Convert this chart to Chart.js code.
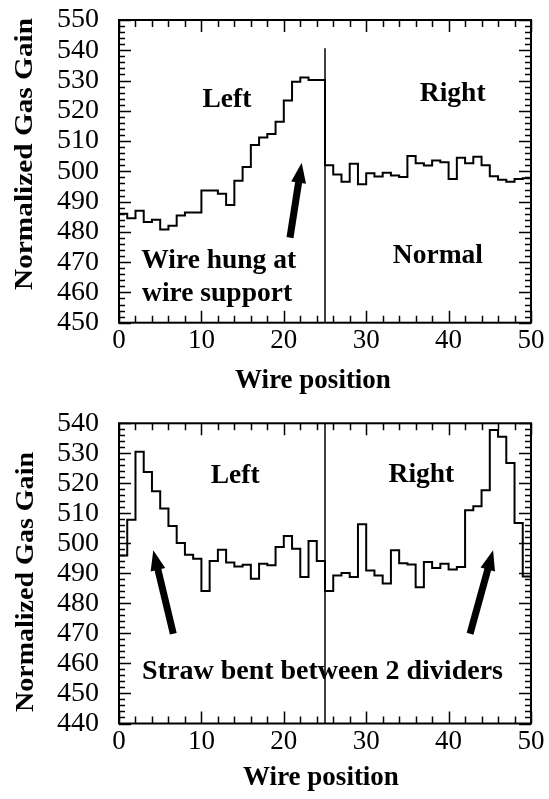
<!DOCTYPE html>
<html><head><meta charset="utf-8">
<script src="https://cdn.jsdelivr.net/npm/chart.js@4/dist/chart.umd.min.js"></script>
<style>
html,body{margin:0;padding:0;background:#fff;}
#wrap{position:relative;width:549px;height:799px;overflow:hidden;}
canvas{position:absolute;left:0;}
</style></head><body>
<div id="wrap">
<canvas id="c1" width="549" height="400" style="top:0px"></canvas>
<canvas id="c2" width="549" height="399" style="top:400px"></canvas>
</div>
<script>
// ---------- DATA ----------
const wirePositions = [0,1,2,3,4,5,6,7,8,9,10,11,12,13,14,15,16,17,18,19,20,21,22,23,24,
  25,26,27,28,29,30,31,32,33,34,35,36,37,38,39,40,41,42,43,44,45,46,47,48,49,50];
const topGain = [486.0,484.5,487.0,483.3,484.0,480.8,482.0,485.4,486.4,486.4,
  493.7,493.7,492.6,488.9,496.9,501.4,508.7,511.2,512.3,516.4,
  523.4,529.6,531.0,530.2,530.2,
  502.0,499.0,496.6,502.5,495.7,499.4,498.3,499.5,498.6,498.1,
  505.1,502.7,501.9,503.6,503.0,497.5,504.5,502.7,504.8,502.0,
  498.4,497.2,496.6,497.5,497.7];
const bottomGain = [496.0,507.9,530.5,523.8,517.4,511.6,505.8,500.1,496.2,494.9,
  484.1,494.1,497.9,493.6,492.3,492.9,488.2,493.2,492.7,498.8,
  502.5,498.2,488.8,500.8,494.1,
  484.1,489.3,490.1,488.8,506.4,491.0,489.3,486.6,497.7,493.4,
  493.0,485.4,493.8,491.8,493.2,491.3,492.1,511.0,512.4,517.7,
  537.8,535.5,526.8,506.8,489.0];
const xTickValues = [0,10,20,30,40,50];
const topYTicks = [450,460,470,480,490,500,510,520,530,540,550];
const bottomYTicks = [440,450,460,470,480,490,500,510,520,530,540];
const topDivider = [{x:25,y:450},{x:25,y:540.7}];
const bottomDivider = [{x:25,y:440},{x:25,y:540}];

// ---------- helpers ----------
function histPoints(vals){
  const pts = vals.map((v,i)=>({x:wirePositions[i], y:v}));
  pts.push({x:wirePositions[vals.length], y:vals[vals.length-1]});
  return pts;
}
const SERIF = '"Liberation Serif","Times New Roman",serif';
const YTICK_SIZE = 28;

const decorPlugin = {
  id:'decor',
  afterDatasetsDraw(chart){
    const o = chart.options.plugins.decor;
    const {ctx, chartArea:a, scales:{x,y}} = chart;
    ctx.save();
    ctx.strokeStyle='#000'; ctx.fillStyle='#000';
    // frame
    ctx.lineWidth=2;
    ctx.strokeRect(a.left,a.top,a.right-a.left,a.bottom-a.top);
    // ticks
    ctx.lineWidth=1.5;
    ctx.beginPath();
    for(let v=y.min; v<=y.max+1e-9; v+=2){
      const py=Math.round(y.getPixelForValue(v))+0.5;
      const L=(Math.round(v)%10===0)?12:6;
      ctx.moveTo(a.left,py); ctx.lineTo(a.left+L,py);
      ctx.moveTo(a.right,py); ctx.lineTo(a.right-L,py);
    }
    for(let v=x.min; v<=x.max+1e-9; v+=2){
      const px=Math.round(x.getPixelForValue(v))+0.5;
      const L=(Math.round(v)%10===0)?12:7;
      ctx.moveTo(px,a.bottom); ctx.lineTo(px,a.bottom-L);
      ctx.moveTo(px,a.top); ctx.lineTo(px,a.top+L);
    }
    ctx.stroke();
    // annotations
    ctx.textAlign='center'; ctx.textBaseline='alphabetic';
    o.notes.forEach(n=>{
      ctx.font='bold '+n.size+'px '+SERIF;
      ctx.fillText(n.text, x.getPixelForValue(n.x), y.getPixelForValue(n.y));
    });
    // arrows
    o.arrows.forEach(ar=>{
      const x0=x.getPixelForValue(ar.x0), y0=y.getPixelForValue(ar.y0);
      const x1=x.getPixelForValue(ar.x1), y1=y.getPixelForValue(ar.y1);
      const dx=x1-x0, dy=y1-y0, len=Math.hypot(dx,dy), ux=dx/len, uy=dy/len;
      const hl=20, hw=7.5;
      const bx=x1-ux*hl, by=y1-uy*hl;
      ctx.lineWidth=7; ctx.lineCap='butt';
      ctx.beginPath(); ctx.moveTo(x0,y0); ctx.lineTo(bx+ux*2,by+uy*2); ctx.stroke();
      ctx.beginPath();
      ctx.moveTo(x1,y1);
      ctx.lineTo(bx-uy*hw, by+ux*hw);
      ctx.lineTo(bx+uy*hw, by-ux*hw);
      ctx.closePath(); ctx.fill();
    });
    // axis titles
    const yt=o.yTitle;
    ctx.save();
    ctx.font='bold '+yt.size+'px '+SERIF;
    const w=ctx.measureText(yt.text).width;
    ctx.translate(yt.x, yt.cy);
    ctx.rotate(-Math.PI/2);
    ctx.scale(yt.len/w,1);
    ctx.textAlign='center'; ctx.textBaseline='alphabetic';
    ctx.fillText(yt.text,0,0);
    ctx.restore();
    const xt=o.xTitle;
    ctx.font='bold '+xt.size+'px '+SERIF;
    ctx.textAlign='center'; ctx.textBaseline='alphabetic';
    ctx.fillText(xt.text, xt.cx, xt.y);
    ctx.restore();
  }
};

function makeChart(id, vals, divider, yMin, yMax, yTicks, areaTop, xAxisH, decor){
  return new Chart(document.getElementById(id), {
    type:'line',
    data:{datasets:[
      {data:histPoints(vals), stepped:'before', borderColor:'#000', borderWidth:2,
       pointRadius:0, fill:false, tension:0},
      {data:divider, borderColor:'#000', borderWidth:1.5, pointRadius:0, fill:false}
    ]},
    options:{
      responsive:false, maintainAspectRatio:false, animation:false, devicePixelRatio:1,
      layout:{padding:{left:0,right:18,top:areaTop,bottom:0}},
      plugins:{legend:{display:false}, tooltip:{enabled:false}, decor:decor},
      scales:{
        x:{type:'linear', min:0, max:50,
           afterBuildTicks:s=>{s.ticks=xTickValues.map(v=>({value:v}));},
           ticks:{font:{family:SERIF,size:27}, color:'#000', padding:2, maxRotation:0, autoSkip:false},
           grid:{display:false, drawTicks:false}, border:{display:false},
           afterFit:s=>{s.height=xAxisH; s.paddingLeft=0; s.paddingRight=0;}},
        y:{type:'linear', min:yMin, max:yMax,
           afterBuildTicks:s=>{s.ticks=yTicks.map(v=>({value:v}));},
           ticks:{font:{family:SERIF,size:YTICK_SIZE}, color:'#000', padding:20, autoSkip:false},
           grid:{display:false, drawTicks:false}, border:{display:false},
           afterFit:s=>{s.width=119; s.paddingTop=0; s.paddingBottom=0;}}
      }
    },
    plugins:[decorPlugin]
  });
}

makeChart('c1', topGain, topDivider, 450, 550, topYTicks, 20, 77.3, {
  notes:[
    {text:'Left', x:13.1, y:521.3, size:27.5},
    {text:'Right', x:40.5, y:523.3, size:27.5},
    {text:'Wire hung at', x:12.1, y:468.1, size:27.5},
    {text:'wire support', x:11.9, y:457.3, size:27.5},
    {text:'Normal', x:38.7, y:469.7, size:27.5}
  ],
  arrows:[{x0:20.75, y0:478.1, x1:22.17, y1:502.8}],
  yTitle:{text:'Normalized Gas Gain', size:25, x:31.5, cy:154, len:272},
  xTitle:{text:'Wire position', size:27, cx:313, y:388}
});
makeChart('c2', bottomGain, bottomDivider, 440, 540, bottomYTicks, 23.3, 75.5, {
  notes:[
    {text:'Left', x:14.1, y:520.1, size:27.5},
    {text:'Right', x:36.7, y:520.5, size:27.5},
    {text:'Straw bent between 2 dividers', x:24.7, y:454.8, size:28}
  ],
  arrows:[{x0:6.59, y0:469.9, x1:4.16, y1:497.7},{x0:42.6, y0:469.9, x1:45.4, y1:497.7}],
  yTitle:{text:'Normalized Gas Gain', size:25, x:32.5, cy:182, len:260},
  xTitle:{text:'Wire position', size:27, cx:321, y:385}
});
</script>
</body></html>
